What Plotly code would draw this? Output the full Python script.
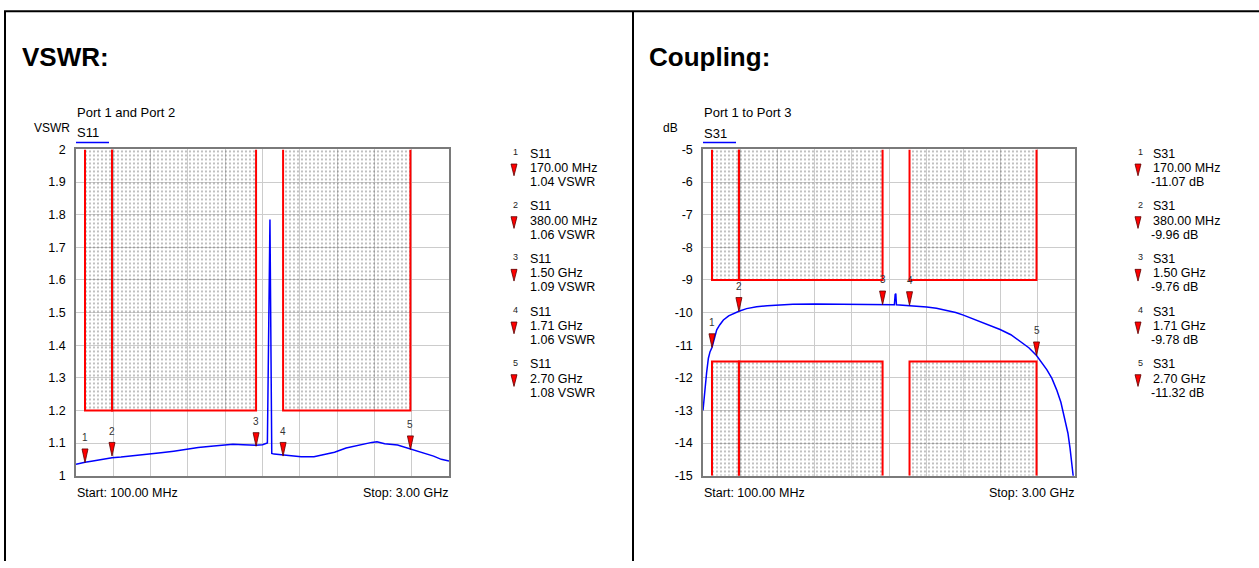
import plotly.graph_objects as go

W, H = 1259, 568
FONT = "Liberation Sans, Arial, sans-serif"

# ---------------- data ----------------
freq_start_mhz, freq_stop_mhz = 100, 3000

vswr_freq_mhz = [100, 140, 170, 220, 280, 380, 450, 560, 670, 760, 860, 960, 1050, 1150,
                 1250, 1320, 1400, 1460, 1500, 1550, 1575, 1588, 1608, 1622, 1640, 1710,
                 1780, 1850, 1950, 2030, 2110, 2200, 2300, 2400, 2440, 2500, 2600, 2700,
                 2800, 2880, 2940, 3000]
vswr_s11 = [1.035, 1.039, 1.041, 1.044, 1.048, 1.055, 1.057, 1.061, 1.066, 1.070, 1.075,
            1.081, 1.086, 1.090, 1.094, 1.096, 1.095, 1.093, 1.093, 1.095, 1.097, 1.100,
            1.785, 1.068, 1.066, 1.063, 1.060, 1.058, 1.058, 1.064, 1.072, 1.085, 1.094,
            1.102, 1.104, 1.098, 1.094, 1.082, 1.071, 1.060, 1.050, 1.045]

coup_freq_mhz = [100, 108, 116, 128, 142, 155, 170, 190, 207, 230, 259, 300, 340, 380, 440,
                 518, 600, 674, 800, 973, 1150, 1300, 1420, 1500, 1560, 1592, 1598, 1603,
                 1608, 1650, 1710, 1780, 1844, 1920, 2000, 2070, 2130, 2210, 2286, 2350,
                 2416, 2500, 2571, 2640, 2700, 2740, 2780, 2820, 2857, 2890, 2922, 2945,
                 2961, 2975, 2987, 3000]
coup_s31 = [-13.0, -12.6, -12.35, -11.85, -11.4, -11.2, -11.07, -10.75, -10.53, -10.38,
            -10.23, -10.10, -10.02, -9.96, -9.88, -9.82, -9.79, -9.77, -9.75, -9.74, -9.74,
            -9.75, -9.76, -9.76, -9.76, -9.76, -9.45, -9.42, -9.76, -9.77, -9.78, -9.80,
            -9.83, -9.87, -9.93, -10.0, -10.08, -10.2, -10.33, -10.42, -10.52, -10.68,
            -10.88, -11.08, -11.32, -11.52, -11.75, -12.02, -12.37, -12.75, -13.26, -13.7,
            -14.15, -14.55, -15.0, -15.5]

marker_ids = ["1", "2", "3", "4", "5"]
marker_freq_mhz = [170, 380, 1500, 1710, 2700]
marker_freq_text = ["170.00 MHz", "380.00 MHz", "1.50 GHz", "1.71 GHz", "2.70 GHz"]
vswr_marker_val = [1.04, 1.06, 1.09, 1.06, 1.08]
coup_marker_val = [-11.07, -9.96, -9.76, -9.78, -11.32]

mask_start_mhz = [170, 380, 1710]
mask_stop_mhz = [380, 1500, 2700]
vswr_upper_limit = 1.2
coup_upper_limit = -9.0
coup_lower_limit = -11.5

vswr_range = [1, 2]
vswr_ticks = [1, 1.1, 1.2, 1.3, 1.4, 1.5, 1.6, 1.7, 1.8, 1.9, 2]
vswr_tick_text = ["1", "1.1", "1.2", "1.3", "1.4", "1.5", "1.6", "1.7", "1.8", "1.9", "2"]
coup_range = [-15, -5]
coup_ticks = [-5, -6, -7, -8, -9, -10, -11, -12, -13, -14, -15]
coup_tick_text = ["-5", "-6", "-7", "-8", "-9", "-10", "-11", "-12", "-13", "-14", "-15"]

# ---------------- layout helpers ----------------
def PX(x):
    return x / W


def PY(y):
    return 1 - y / H


L_X0, L_X1 = 76, 449
R_X0, R_X1 = 703, 1075
P_Y0, P_Y1 = 146, 480.5

fig = go.Figure()

BLUE = "#0000ff"
RED = "#ff0000"
GRID = "#cccccc"
FRAME = "#7a7a7a"


def add_mask(xa, ya, f0, f1, edge, lim):
    # hatched area
    fig.add_trace(go.Scatter(
        x=[f0, f0, f1, f1, f0], y=[edge, lim, lim, edge, edge], xaxis=xa, yaxis=ya,
        mode="none", fill="toself", fillcolor="rgba(0,0,0,0)",
        fillpattern=dict(shape=".", fgcolor="#111111", bgcolor="rgba(0,0,0,0)",
                         size=4, solidity=0.15),
        hoverinfo="skip", showlegend=False))
    # red limit outline
    fig.add_trace(go.Scatter(
        x=[f0, f0, f1, f1], y=[edge, lim, lim, edge], xaxis=xa, yaxis=ya,
        mode="lines", line=dict(color=RED, width=2), hoverinfo="skip", showlegend=False))


for f0, f1 in zip(mask_start_mhz, mask_stop_mhz):
    add_mask("x", "y", f0, f1, vswr_range[1], vswr_upper_limit)
    add_mask("x2", "y2", f0, f1, coup_range[1], coup_upper_limit)
    add_mask("x2", "y2", f0, f1, coup_range[0], coup_lower_limit)

fig.add_trace(go.Scatter(x=vswr_freq_mhz, y=vswr_s11, mode="lines", xaxis="x", yaxis="y",
                         line=dict(color=BLUE, width=1.5), showlegend=False))
fig.add_trace(go.Scatter(x=coup_freq_mhz, y=coup_s31, mode="lines", xaxis="x2", yaxis="y2",
                         line=dict(color=BLUE, width=1.5), showlegend=False))


def marker_triangles(xa, ya, freqs, vals, x_px_span, y_px_span, y_span):
    mhz_per_px = (freq_stop_mhz - freq_start_mhz) / x_px_span
    unit_per_px = y_span / y_px_span
    hw = 3 * mhz_per_px
    h = 14 * unit_per_px
    xs, ys = [], []
    for f, v in zip(freqs, vals):
        xs += [f - hw, f + hw, f, f - hw, None]
        ys += [v + h, v + h, v, v + h, None]
    fig.add_trace(go.Scatter(x=xs, y=ys, xaxis=xa, yaxis=ya, mode="lines", fill="toself",
                             fillcolor=RED, line=dict(color="#5a0000", width=0.8),
                             hoverinfo="skip", showlegend=False))


marker_triangles("x", "y", marker_freq_mhz, vswr_marker_val, L_X1 - L_X0, P_Y1 - P_Y0, 1.0)
marker_triangles("x2", "y2", marker_freq_mhz, coup_marker_val, R_X1 - R_X0, P_Y1 - P_Y0, 10.0)

annotations = []
for mid, f, v in zip(marker_ids, marker_freq_mhz, vswr_marker_val):
    annotations.append(dict(x=f, y=v, xref="x", yref="y", text=mid, showarrow=False,
                            yshift=25, font=dict(family=FONT, size=10, color="#333")))
for mid, f, v in zip(marker_ids, marker_freq_mhz, coup_marker_val):
    annotations.append(dict(x=f, y=v, xref="x2", yref="y2", text=mid, showarrow=False,
                            yshift=25, font=dict(family=FONT, size=10, color="#333")))


def txt(text, x, y, size=13, bold=False, xanchor="left", color="#000"):
    annotations.append(dict(
        x=PX(x), y=PY(y), xref="paper", yref="paper", text=f"<b>{text}</b>" if bold else text,
        showarrow=False, xanchor=xanchor, yanchor="middle",
        font=dict(family=FONT, size=size, color=color)))


# titles
txt("VSWR:", 20, 51, size=26, bold=True)
txt("Coupling:", 647, 51, size=26, bold=True)
txt("Port 1 and Port 2", 75, 108.5, size=13)
txt("VSWR", 32, 124.5, size=12)
txt("S11", 75, 129, size=13)
txt("Port 1 to Port 3", 702, 108, size=13)
txt("dB", 661, 124.5, size=12)
txt("S31", 702, 129.5, size=13)
txt("Start: 100.00 MHz", 75, 498, size=12.5)
txt("Stop: 3.00 GHz", L_X1 + 1, 498, size=12.5, xanchor="right")
txt("Start: 100.00 MHz", 702, 498, size=12.5)
txt("Stop: 3.00 GHz", R_X1 + 1, 498, size=12.5, xanchor="right")

shapes = []
# trace underlines
shapes.append(dict(type="line", xref="paper", yref="paper", x0=PX(76), x1=PX(109),
                   y0=PY(139), y1=PY(139), line=dict(color=BLUE, width=1.6)))
shapes.append(dict(type="line", xref="paper", yref="paper", x0=PX(703), x1=PX(736),
                   y0=PY(139), y1=PY(139), line=dict(color=BLUE, width=1.6)))

# marker tables
block_top = 150.5
block_step = 54
for i, mid in enumerate(marker_ids):
    yb = block_top + i * block_step
    # left table
    txt(mid, 511, yb - 2, size=9, color="#222")
    txt("S11", 528, yb, size=12.5)
    txt(marker_freq_text[i], 528, yb + 14.5, size=12.5)
    txt(f"{vswr_marker_val[i]:.2f} VSWR", 528, yb + 29, size=12.5)
    # right table
    txt(mid, 1136, yb - 2, size=9, color="#222")
    txt("S31", 1151, yb, size=12.5)
    txt(marker_freq_text[i], 1151, yb + 14.5, size=12.5)
    txt(f"{coup_marker_val[i]:.2f} dB", 1149, yb + 29, size=12.5)
    for cx in (514, 1138):
        ty0, ty1 = yb + 10.5, yb + 22.5
        path = (f"M{PX(cx - 3)},{PY(ty0)} L{PX(cx + 3)},{PY(ty0)} "
                f"L{PX(cx)},{PY(ty1)} Z")
        shapes.append(dict(type="path", xref="paper", yref="paper", path=path,
                           fillcolor=RED, line=dict(color="#5a0000", width=0.8)))

# page borders
shapes.append(dict(type="line", xref="paper", yref="paper", x0=PX(4), x1=PX(W),
                   y0=PY(4.3), y1=PY(4.3), line=dict(color="#000", width=2)))
shapes.append(dict(type="line", xref="paper", yref="paper", x0=PX(5), x1=PX(5),
                   y0=PY(4), y1=PY(H), line=dict(color="#000", width=2)))
shapes.append(dict(type="line", xref="paper", yref="paper", x0=PX(633), x1=PX(633),
                   y0=PY(4), y1=PY(H), line=dict(color="#000", width=2)))

xcommon = dict(range=[freq_start_mhz, freq_stop_mhz], tick0=freq_start_mhz,
               dtick=(freq_stop_mhz - freq_start_mhz) / 10, showticklabels=False,
               showgrid=True, gridcolor=GRID, gridwidth=1, zeroline=False,
               showline=True, mirror=True, linecolor=FRAME, linewidth=1.5, ticks="")
ycommon = dict(showgrid=True, gridcolor=GRID, gridwidth=1, zeroline=False, showline=True,
               mirror=True, linecolor=FRAME, linewidth=1.5, ticks="",
               ticklabelstandoff=6, tickfont=dict(family=FONT, size=12.5, color="#000"),
               tickmode="array")

fig.update_layout(
    width=W, height=H, margin=dict(l=0, r=0, t=0, b=0),
    paper_bgcolor="white", plot_bgcolor="white", showlegend=False,
    font=dict(family=FONT, color="#000"),
    xaxis=dict(domain=[PX(L_X0), PX(L_X1)], anchor="y", **xcommon),
    yaxis=dict(domain=[PY(P_Y1), PY(P_Y0)], anchor="x", range=vswr_range,
               tickvals=vswr_ticks, ticktext=vswr_tick_text, **ycommon),
    xaxis2=dict(domain=[PX(R_X0), PX(R_X1)], anchor="y2", **xcommon),
    yaxis2=dict(domain=[PY(P_Y1), PY(P_Y0)], anchor="x2", range=coup_range,
                tickvals=coup_ticks, ticktext=coup_tick_text, **ycommon),
    annotations=annotations, shapes=shapes,
)

fig.write_html("out.html", config={"displayModeBar": False},
               post_script="document.body.style.margin='0';document.body.style.overflow='hidden';")
